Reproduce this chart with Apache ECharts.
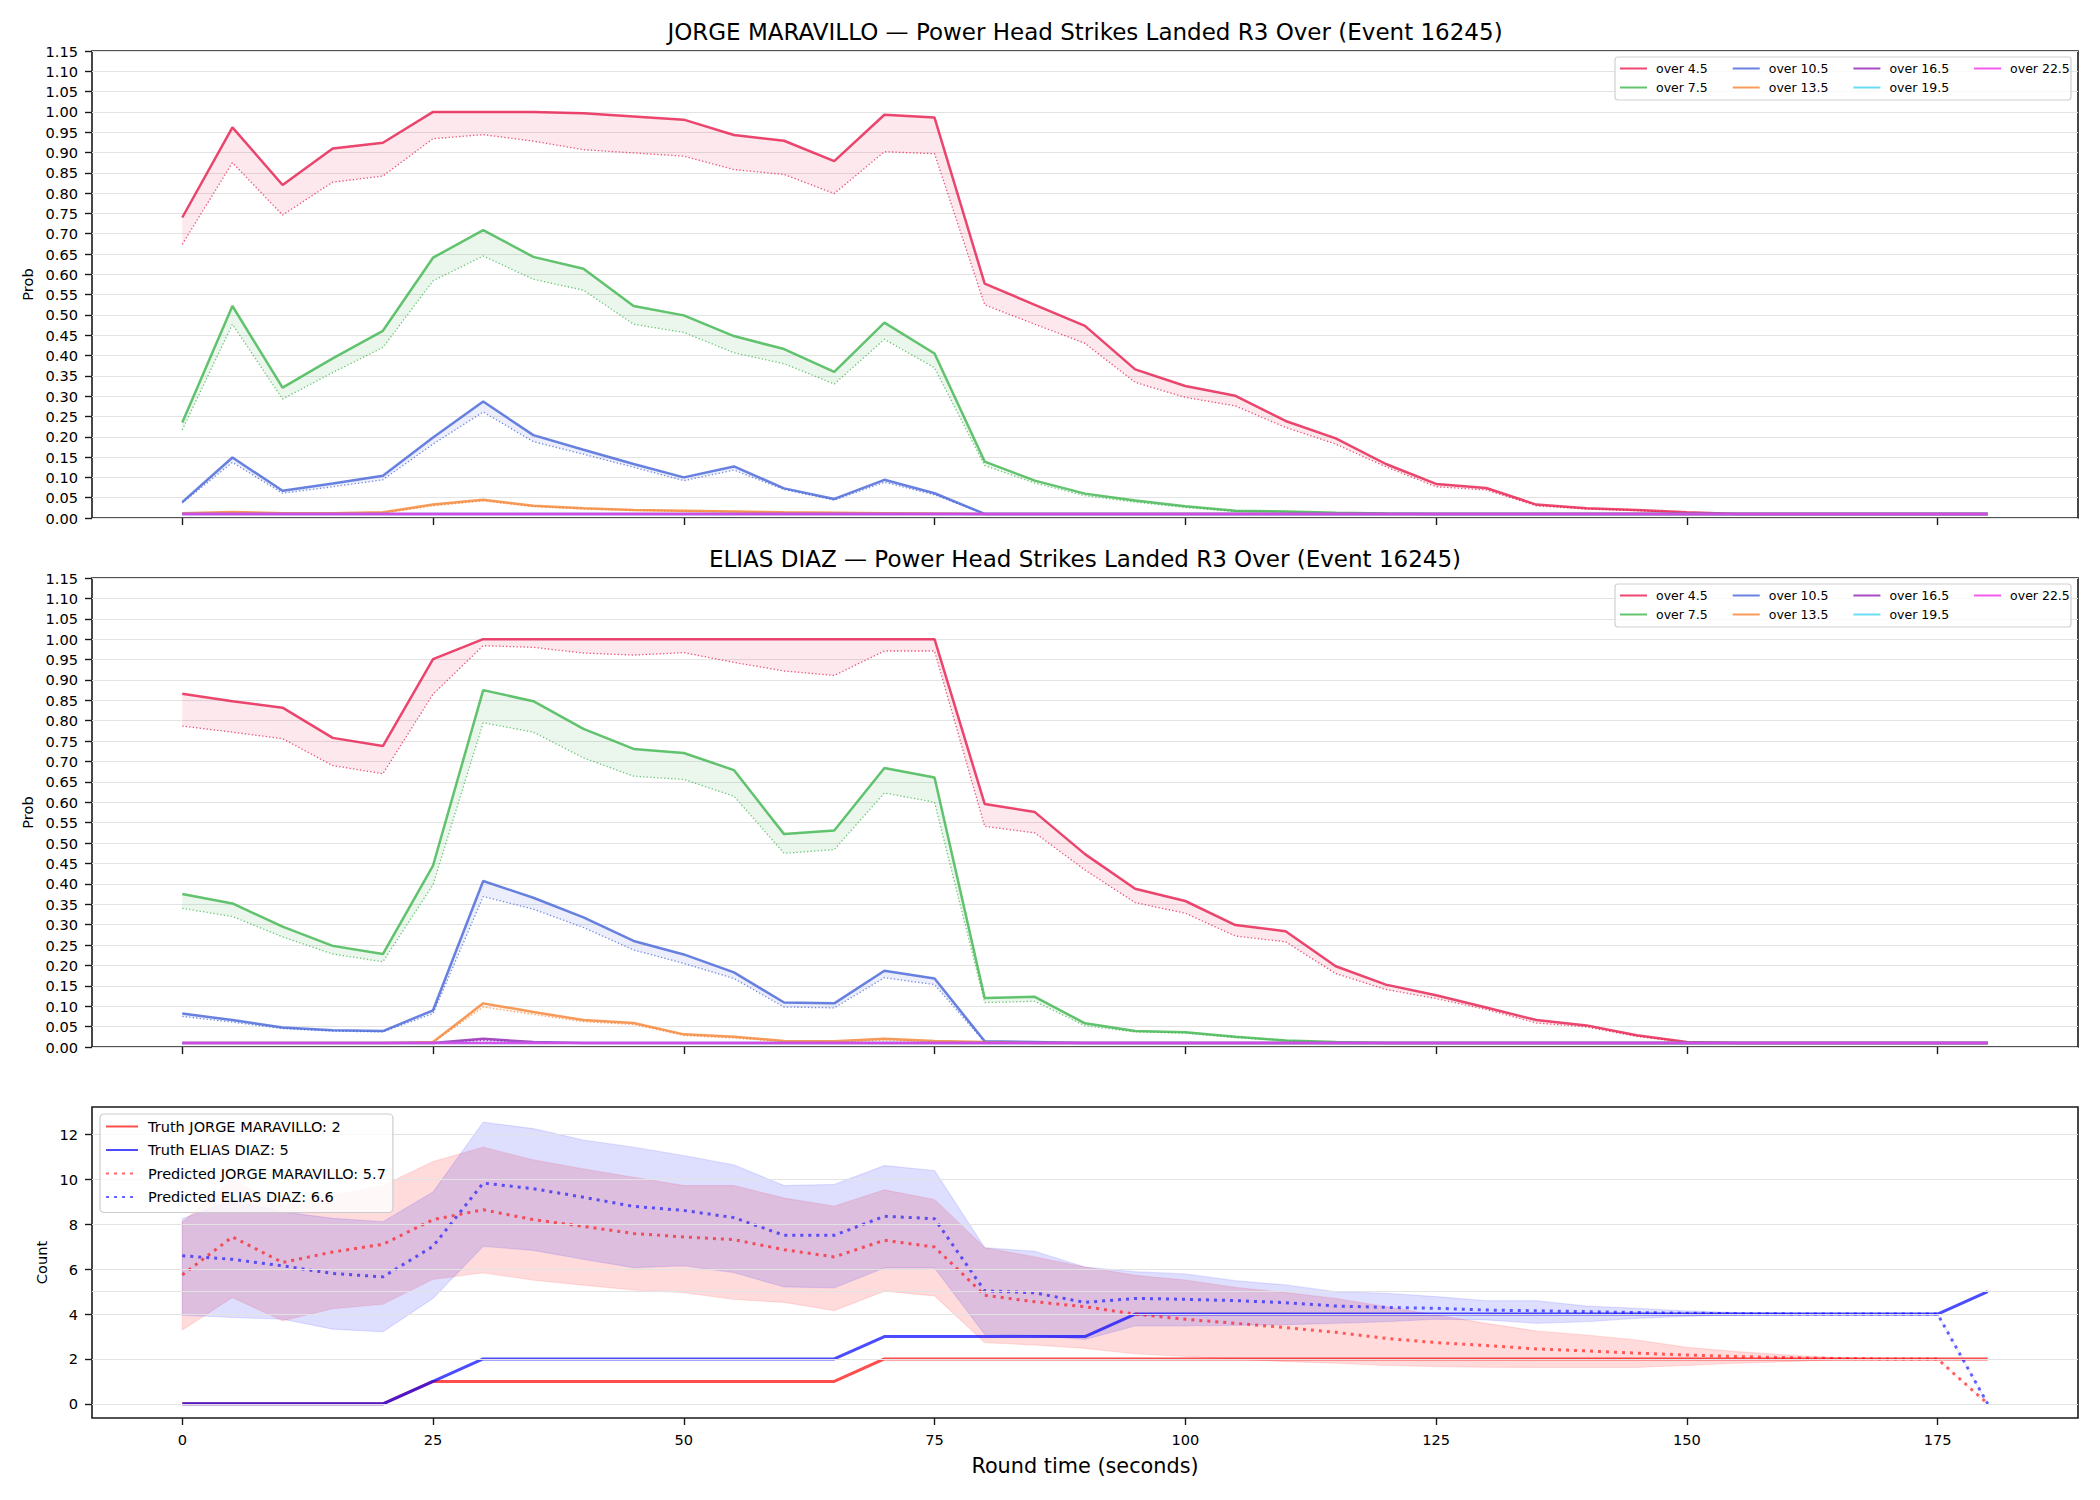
<!DOCTYPE html>
<html><head><meta charset="utf-8">
<script src="https://cdn.jsdelivr.net/npm/echarts@6/dist/echarts.min.js"></script>
<style>html,body{margin:0;padding:0;background:#fff}#c{width:2100px;height:1500px}</style>
</head><body><div id="c"></div>
<script>
// ---------------- DATA ----------------
const times = [0,5,10,15,20,25,30,35,40,45,50,55,60,65,70,75,80,85,90,95,100,105,110,115,120,125,130,135,140,145,150,155,160,165,170,175,180];
const thresholds = ['over 4.5','over 7.5','over 10.5','over 13.5','over 16.5','over 19.5','over 22.5'];
const xTicks = [0,25,50,75,100,125,150,175];
const countTicks = [0,2,4,6,8,10,12];

// JORGE MARAVILLO probabilities (solid = main, lo = dotted)
const J_o45    = [0.74,0.962,0.82,0.91,0.924,1.0,1.0,1.0,0.997,0.989,0.981,0.943,0.929,0.879,0.993,0.986,0.577,0.525,0.473,0.366,0.325,0.301,0.239,0.196,0.133,0.084,0.074,0.033,0.024,0.02,0.014,0.01,0.01,0.01,0.01,0.01,0.01];
const J_o45_lo = [0.674,0.875,0.746,0.827,0.842,0.934,0.944,0.928,0.907,0.899,0.891,0.858,0.846,0.799,0.902,0.897,0.525,0.477,0.43,0.334,0.297,0.276,0.223,0.182,0.126,0.077,0.069,0.03,0.022,0.018,0.013,0.01,0.01,0.01,0.01,0.01,0.01];
const J_o75    = [0.235,0.522,0.321,0.393,0.461,0.641,0.709,0.643,0.614,0.522,0.499,0.448,0.416,0.36,0.481,0.405,0.139,0.092,0.06,0.043,0.029,0.018,0.016,0.013,0.011,0.01,0.01,0.01,0.01,0.01,0.01,0.01,0.01,0.01,0.01,0.01,0.01];
const J_o75_lo = [0.217,0.477,0.293,0.358,0.42,0.584,0.645,0.588,0.561,0.477,0.457,0.407,0.38,0.33,0.44,0.37,0.129,0.086,0.055,0.039,0.026,0.016,0.015,0.013,0.011,0.01,0.01,0.01,0.01,0.01,0.01,0.01,0.01,0.01,0.01,0.01,0.01];
const J_o105    = [0.039,0.149,0.067,0.085,0.104,0.198,0.287,0.204,0.168,0.133,0.1,0.127,0.073,0.047,0.094,0.061,0.01,0.01,0.01,0.01,0.01,0.01,0.01,0.01,0.01,0.01,0.01,0.01,0.01,0.01,0.01,0.01,0.01,0.01,0.01,0.01,0.01];
const J_o105_lo = [0.037,0.137,0.061,0.077,0.094,0.182,0.261,0.188,0.157,0.125,0.092,0.118,0.07,0.044,0.088,0.057,0.01,0.01,0.01,0.01,0.01,0.01,0.01,0.01,0.01,0.01,0.01,0.01,0.01,0.01,0.01,0.01,0.01,0.01,0.01,0.01,0.01];
const J_o135    = [0.012,0.015,0.012,0.012,0.014,0.033,0.045,0.03,0.024,0.02,0.018,0.016,0.014,0.013,0.012,0.011,0.01,0.01,0.01,0.01,0.01,0.01,0.01,0.01,0.01,0.01,0.01,0.01,0.01,0.01,0.01,0.01,0.01,0.01,0.01,0.01,0.01];
const J_o135_lo = [0.011,0.013,0.011,0.011,0.012,0.03,0.042,0.028,0.022,0.019,0.016,0.015,0.013,0.012,0.011,0.01,0.01,0.01,0.01,0.01,0.01,0.01,0.01,0.01,0.01,0.01,0.01,0.01,0.01,0.01,0.01,0.01,0.01,0.01,0.01,0.01,0.01];
const J_o165    = [0.01,0.01,0.01,0.01,0.01,0.01,0.01,0.01,0.01,0.01,0.01,0.01,0.01,0.01,0.01,0.01,0.01,0.01,0.01,0.01,0.01,0.01,0.01,0.01,0.01,0.01,0.01,0.01,0.01,0.01,0.01,0.01,0.01,0.01,0.01,0.01,0.01];
const J_o195    = [0.01,0.01,0.01,0.01,0.01,0.01,0.01,0.01,0.01,0.01,0.01,0.01,0.01,0.01,0.01,0.01,0.01,0.01,0.01,0.01,0.01,0.01,0.01,0.01,0.01,0.01,0.01,0.01,0.01,0.01,0.01,0.01,0.01,0.01,0.01,0.01,0.01];
const J_o225    = [0.01,0.01,0.01,0.01,0.01,0.01,0.01,0.01,0.01,0.01,0.01,0.01,0.01,0.01,0.01,0.01,0.01,0.01,0.01,0.01,0.01,0.01,0.01,0.01,0.01,0.01,0.01,0.01,0.01,0.01,0.01,0.01,0.01,0.01,0.01,0.01,0.01];

// ELIAS DIAZ probabilities
const E_o45    = [0.866,0.848,0.832,0.758,0.738,0.951,1.0,1.0,1.0,1.0,1.0,1.0,1.0,1.0,1.0,1.0,0.596,0.576,0.473,0.388,0.358,0.299,0.284,0.198,0.153,0.127,0.097,0.066,0.053,0.029,0.012,0.01,0.01,0.01,0.01,0.01,0.01];
const E_o45_lo = [0.787,0.772,0.756,0.69,0.67,0.865,0.984,0.98,0.966,0.961,0.967,0.943,0.922,0.911,0.971,0.971,0.541,0.525,0.434,0.354,0.328,0.272,0.258,0.18,0.141,0.119,0.092,0.059,0.049,0.026,0.011,0.01,0.01,0.01,0.01,0.01,0.01];
const E_o75    = [0.375,0.352,0.295,0.248,0.228,0.445,0.875,0.848,0.78,0.731,0.721,0.679,0.522,0.531,0.684,0.661,0.12,0.123,0.058,0.039,0.036,0.025,0.016,0.012,0.01,0.01,0.01,0.01,0.01,0.01,0.01,0.01,0.01,0.01,0.01,0.01,0.01];
const E_o75_lo = [0.34,0.32,0.27,0.228,0.209,0.398,0.795,0.772,0.709,0.664,0.656,0.615,0.475,0.484,0.623,0.6,0.109,0.112,0.052,0.037,0.034,0.023,0.016,0.012,0.01,0.01,0.01,0.01,0.01,0.01,0.01,0.01,0.01,0.01,0.01,0.01,0.01];
const E_o105    = [0.082,0.066,0.048,0.041,0.039,0.09,0.407,0.366,0.318,0.26,0.227,0.183,0.109,0.107,0.187,0.168,0.014,0.012,0.01,0.01,0.01,0.01,0.01,0.01,0.01,0.01,0.01,0.01,0.01,0.01,0.01,0.01,0.01,0.01,0.01,0.01,0.01];
const E_o105_lo = [0.075,0.061,0.045,0.039,0.037,0.082,0.369,0.338,0.293,0.238,0.205,0.168,0.098,0.096,0.17,0.153,0.012,0.011,0.01,0.01,0.01,0.01,0.01,0.01,0.01,0.01,0.01,0.01,0.01,0.01,0.01,0.01,0.01,0.01,0.01,0.01,0.01];
const E_o135    = [0.01,0.01,0.01,0.01,0.01,0.012,0.107,0.086,0.066,0.059,0.031,0.025,0.015,0.014,0.02,0.015,0.012,0.01,0.01,0.01,0.01,0.01,0.01,0.01,0.01,0.01,0.01,0.01,0.01,0.01,0.01,0.01,0.01,0.01,0.01,0.01,0.01];
const E_o135_lo = [0.01,0.01,0.01,0.01,0.01,0.011,0.098,0.08,0.062,0.055,0.028,0.022,0.013,0.012,0.017,0.013,0.011,0.01,0.01,0.01,0.01,0.01,0.01,0.01,0.01,0.01,0.01,0.01,0.01,0.01,0.01,0.01,0.01,0.01,0.01,0.01,0.01];
const E_o165    = [0.01,0.01,0.01,0.01,0.01,0.01,0.02,0.012,0.01,0.01,0.01,0.01,0.01,0.01,0.01,0.01,0.01,0.01,0.01,0.01,0.01,0.01,0.01,0.01,0.01,0.01,0.01,0.01,0.01,0.01,0.01,0.01,0.01,0.01,0.01,0.01,0.01];
const E_o165_lo = [0.01,0.01,0.01,0.01,0.01,0.01,0.016,0.011,0.01,0.01,0.01,0.01,0.01,0.01,0.01,0.01,0.01,0.01,0.01,0.01,0.01,0.01,0.01,0.01,0.01,0.01,0.01,0.01,0.01,0.01,0.01,0.01,0.01,0.01,0.01,0.01,0.01];
const E_o195    = [0.01,0.01,0.01,0.01,0.01,0.01,0.01,0.01,0.01,0.01,0.01,0.01,0.01,0.01,0.01,0.01,0.01,0.01,0.01,0.01,0.01,0.01,0.01,0.01,0.01,0.01,0.01,0.01,0.01,0.01,0.01,0.01,0.01,0.01,0.01,0.01,0.01];
const E_o225    = [0.01,0.01,0.01,0.01,0.01,0.01,0.01,0.01,0.01,0.01,0.01,0.01,0.01,0.01,0.01,0.01,0.01,0.01,0.01,0.01,0.01,0.01,0.01,0.01,0.01,0.01,0.01,0.01,0.01,0.01,0.01,0.01,0.01,0.01,0.01,0.01,0.01];

// Counts panel
const truthJ = [0,0,0,0,0,1,1,1,1,1,1,1,1,1,2,2,2,2,2,2,2,2,2,2,2,2,2,2,2,2,2,2,2,2,2,2,2];
const truthE = [0,0,0,0,0,1,2,2,2,2,2,2,2,2,3,3,3,3,3,4,4,4,4,4,4,4,4,4,4,4,4,4,4,4,4,4,5];
const predJ  = [5.75,7.44,6.3,6.77,7.11,8.21,8.65,8.21,7.91,7.59,7.44,7.32,6.87,6.55,7.29,6.99,4.84,4.55,4.33,4.0,3.77,3.59,3.4,3.19,2.92,2.73,2.6,2.45,2.36,2.26,2.18,2.11,2.06,2.02,2.0,2.0,0];
const predE  = [6.6,6.44,6.15,5.81,5.66,7.02,9.84,9.59,9.21,8.8,8.62,8.3,7.51,7.51,8.36,8.25,5.04,4.95,4.52,4.7,4.66,4.6,4.51,4.36,4.3,4.26,4.18,4.15,4.11,4.07,4.04,4.02,4.01,4.0,4.0,4.0,0];
const predJ_hi = [8.1,10.0,8.84,9.29,9.73,10.8,11.44,10.87,10.47,10.1,9.73,9.73,9.17,8.81,9.54,9.1,6.96,6.55,6.1,5.73,5.52,5.19,4.96,4.7,4.33,3.96,3.59,3.25,3.07,2.85,2.52,2.33,2.18,2.06,2.0,2.0,0];
const predJ_lo = [3.29,4.74,3.7,4.24,4.44,5.55,5.84,5.51,5.29,5.07,4.96,4.65,4.52,4.15,5.02,4.81,2.73,2.62,2.47,2.23,2.11,1.99,1.88,1.81,1.71,1.66,1.63,1.62,1.62,1.62,1.71,1.81,1.88,1.96,2.0,2.0,0];
const predE_hi = [8.25,9.07,8.56,8.27,8.12,9.44,12.55,12.27,11.76,11.44,11.07,10.65,9.73,9.78,10.62,10.4,6.96,6.8,6.1,5.89,5.79,5.49,5.3,5.0,4.93,4.78,4.6,4.6,4.36,4.26,4.14,4.07,4.03,4.0,4.0,4.0,0];
const predE_lo = [3.95,3.85,3.77,3.33,3.21,4.7,7.02,6.84,6.44,6.07,6.15,5.85,5.21,5.17,6.06,6.06,3.1,3.04,2.87,3.47,3.47,3.5,3.53,3.59,3.66,3.77,3.74,3.59,3.66,3.81,3.9,3.96,3.99,4.0,4.0,4.0,0];

const legendJ = ['Truth JORGE MARAVILLO: 2','Truth ELIAS DIAZ: 5','Predicted JORGE MARAVILLO: 5.7','Predicted ELIAS DIAZ: 6.6'];
const titles = ['JORGE MARAVILLO — Power Head Strikes Landed R3 Over (Event 16245)','ELIAS DIAZ — Power Head Strikes Landed R3 Over (Event 16245)'];

// ---------------- STYLE / BUILD ----------------
const FONT = 'DejaVu Sans';
const palette = ['#e6194b','#3cb44b','#4363d8','#f58231','#911eb4','#42d4f4','#f032e6'];
function rgba(hex, a){const n=parseInt(hex.slice(1),16);return 'rgba('+((n>>16)&255)+','+((n>>8)&255)+','+(n&255)+','+a+')';}

const gridDefs = [
  {left:92, right:22, top:51, height:467},
  {left:92, right:22, top:578, height:469},
  {left:92, right:22, top:1107, height:311}
];
const grid = gridDefs.map(g => Object.assign({show:true, borderColor:'#1a1a1a', borderWidth:1.6, containLabel:false}, g));

function xAxis(gi, labels){
  const ax = {type:'value', gridIndex:gi, min:-9, max:189,
    axisLine:{show:false, onZero:false},
    axisTick:{show:true, inside:false, length:7, customValues:xTicks, lineStyle:{color:'#1a1a1a', width:1.4}},
    axisLabel:{show:labels, customValues:xTicks, margin:14, fontFamily:FONT, fontSize:14.6, color:'#000'},
    splitLine:{show:false}};
  if (labels) {
    ax.name = 'Round time (seconds)'; ax.nameLocation = 'middle'; ax.nameGap = 37;
    ax.nameTextStyle = {fontFamily:FONT, fontSize:20.8, color:'#000'};
  }
  return ax;
}
function yProb(gi){
  return {type:'value', gridIndex:gi, min:0, max:1.15, interval:0.05,
    axisLine:{show:false, onZero:false},
    axisTick:{show:true, inside:false, length:7, lineStyle:{color:'#1a1a1a', width:1.4}},
    axisLabel:{margin:14, fontFamily:FONT, fontSize:14.6, color:'#000', formatter:v=>v.toFixed(2)},
    splitLine:{show:true, lineStyle:{color:'#e3e3e3', width:1}},
    name:'Prob', nameLocation:'middle', nameGap:55, nameRotate:90,
    nameTextStyle:{fontFamily:FONT, fontSize:14.6, color:'#000'}};
}
const yCount = {type:'value', gridIndex:2, min:-0.63, max:13.23,
    axisLine:{show:false, onZero:false},
    axisTick:{show:true, inside:false, length:7, customValues:countTicks, lineStyle:{color:'#1a1a1a', width:1.4}},
    axisLabel:{customValues:countTicks, margin:14, fontFamily:FONT, fontSize:14.6, color:'#000'},
    splitLine:{show:false},
    name:'Count', nameLocation:'middle', nameGap:40, nameRotate:90,
    nameTextStyle:{fontFamily:FONT, fontSize:14.6, color:'#000'}};

function bandRender(lo, hi, fill, stroke){
  return function(params, api){
    if (params.dataIndex !== 0) return null;
    const pts = [];
    for (let i=0;i<times.length;i++) pts.push(api.coord([times[i], hi[i]]));
    for (let i=times.length-1;i>=0;i--) pts.push(api.coord([times[i], lo[i]]));
    return {type:'polygon', shape:{points:pts}, style:{fill:fill, stroke:stroke||'none', lineWidth:stroke?1.2:0}};
  };
}

const series = [];
function probPanel(gi, solids, dotteds){
  solids.forEach((s,k)=>{
    const d = dotteds[k];
    series.push({type:'custom', xAxisIndex:gi, yAxisIndex:gi, silent:true, z:1, clip:true,
      data: times.map((t,i)=>[t, d[i], s[i]]), encode:{x:0, y:[1,2]},
      renderItem: bandRender(d, s, rgba(palette[k],0.1), null)});
  });
  solids.forEach((s,k)=>{
    const d = dotteds[k];
    series.push({type:'line', xAxisIndex:gi, yAxisIndex:gi, name:'fair '+gi+'_'+k, silent:true, z:2,
      data: times.map((t,i)=>[t, d[i]]), symbol:'none', showSymbol:false,
      lineStyle:{color:rgba(palette[k],0.75), width:1.3, type:[1.3,2.2]}});
  });
  solids.forEach((s,k)=>{
    series.push({type:'line', xAxisIndex:gi, yAxisIndex:gi, name:thresholds[k], silent:true, z:3,
      data: times.map((t,i)=>[t, s[i]]), symbol:'none', showSymbol:false,
      itemStyle:{color:rgba(palette[k],0.8)},
      lineStyle:{color:rgba(palette[k],0.8), width:2.5}});
  });
}
probPanel(0, [J_o45,J_o75,J_o105,J_o135,J_o165,J_o195,J_o225], [J_o45_lo,J_o75_lo,J_o105_lo,J_o135_lo,J_o165,J_o195,J_o225]);
probPanel(1, [E_o45,E_o75,E_o105,E_o135,E_o165,E_o195,E_o225], [E_o45_lo,E_o75_lo,E_o105_lo,E_o135_lo,E_o165_lo,E_o195,E_o225]);

// Count panel
series.push({type:'line', xAxisIndex:2, yAxisIndex:2, name:'grid3', data:[], silent:true, z:0,
  markLine:{silent:true, symbol:['none','none'], label:{show:false}, animation:false,
    lineStyle:{color:'#e3e3e3', width:1, type:'solid'},
    data: countTicks.map(v=>({yAxis:v})).concat([{yAxis:5}])}});
series.push({type:'custom', xAxisIndex:2, yAxisIndex:2, silent:true, z:1,
  data: times.map((t,i)=>[t, predJ_lo[i], predJ_hi[i]]), encode:{x:0,y:[1,2]},
  renderItem: bandRender(predJ_lo, predJ_hi, 'rgba(255,0,0,0.14)', 'rgba(255,0,0,0.1)')});
series.push({type:'custom', xAxisIndex:2, yAxisIndex:2, silent:true, z:1,
  data: times.map((t,i)=>[t, predE_lo[i], predE_hi[i]]), encode:{x:0,y:[1,2]},
  renderItem: bandRender(predE_lo, predE_hi, 'rgba(0,0,255,0.13)', 'rgba(0,0,255,0.1)')});
series.push({type:'line', xAxisIndex:2, yAxisIndex:2, name:legendJ[0], silent:true, z:3,
  data: times.map((t,i)=>[t, truthJ[i]]), symbol:'none', showSymbol:false,
  itemStyle:{color:'rgba(255,0,0,0.7)'}, lineStyle:{color:'rgba(255,0,0,0.7)', width:3}});
series.push({type:'line', xAxisIndex:2, yAxisIndex:2, name:legendJ[1], silent:true, z:3,
  data: times.map((t,i)=>[t, truthE[i]]), symbol:'none', showSymbol:false,
  itemStyle:{color:'rgba(0,0,255,0.7)'}, lineStyle:{color:'rgba(0,0,255,0.7)', width:3}});
series.push({type:'line', xAxisIndex:2, yAxisIndex:2, name:legendJ[2], silent:true, z:3,
  data: times.map((t,i)=>[t, predJ[i]]), symbol:'none', showSymbol:false,
  itemStyle:{color:'rgba(255,0,0,0.6)'}, lineStyle:{color:'rgba(255,0,0,0.6)', width:3, type:[3,5]}});
series.push({type:'line', xAxisIndex:2, yAxisIndex:2, name:legendJ[3], silent:true, z:3,
  data: times.map((t,i)=>[t, predE[i]]), symbol:'none', showSymbol:false,
  itemStyle:{color:'rgba(0,0,255,0.6)'}, lineStyle:{color:'rgba(0,0,255,0.6)', width:3, type:[3,5]}});

function probLegend(top, names){
  return {orient:'horizontal', left:1619, top:top, padding:0, itemGap:24, itemWidth:27, itemHeight:14,
    data:names, selectedMode:false, z:10, itemStyle:{opacity:0},
    textStyle:{fontFamily:FONT, fontSize:12.5, color:'#000', padding:[0,0,0,4]}};
}
const legend = [
  probLegend(62, [thresholds[0],thresholds[2],thresholds[4],thresholds[6]]),
  probLegend(81, [thresholds[1],thresholds[3],thresholds[5]]),
  probLegend(589, [thresholds[0],thresholds[2],thresholds[4],thresholds[6]]),
  probLegend(608, [thresholds[1],thresholds[3],thresholds[5]]),
  {orient:'vertical', left:100, top:1114, padding:[5,7,8,5], itemGap:8.5, itemWidth:32, itemHeight:14,
   data:legendJ, selectedMode:false, z:10, itemStyle:{opacity:0},
   backgroundColor:'rgba(255,255,255,0.8)', borderColor:'#cccccc', borderWidth:1.2, borderRadius:4,
   textStyle:{fontFamily:FONT, fontSize:14.5, color:'#000', padding:[0,0,0,5]}}
];

const graphic = [
  {type:'rect', z:5, shape:{x:1615, y:57, width:456, height:43, r:3}, style:{fill:'rgba(255,255,255,0.8)', stroke:'#d0d0d0', lineWidth:1.2}},
  {type:'rect', z:5, shape:{x:1615, y:584, width:456, height:43, r:3}, style:{fill:'rgba(255,255,255,0.8)', stroke:'#d0d0d0', lineWidth:1.2}},
  {type:'text', z:5, x:1085, y:32, style:{text:titles[0], fontFamily:FONT, fontSize:23, fill:'#000', textAlign:'center', textVerticalAlign:'middle'}},
  {type:'text', z:5, x:1085, y:559, style:{text:titles[1], fontFamily:FONT, fontSize:23, fill:'#000', textAlign:'center', textVerticalAlign:'middle'}}
];

const chart = echarts.init(document.getElementById('c'), null, {renderer:'svg', width:2100, height:1500});
chart.setOption({
  animation:false,
  backgroundColor:'#ffffff',
  textStyle:{fontFamily:FONT},
  grid: grid,
  xAxis: [xAxis(0,false), xAxis(1,false), xAxis(2,true)],
  yAxis: [yProb(0), yProb(1), yCount],
  legend: legend,
  graphic: graphic,
  series: series
});
</script></body></html>
